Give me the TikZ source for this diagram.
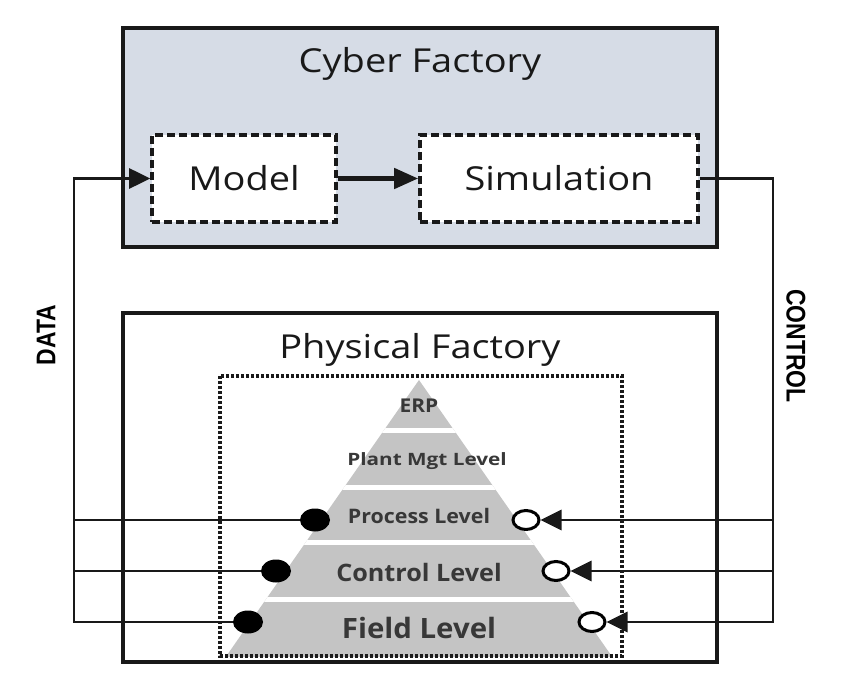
\documentclass[tikz,border=0pt]{standalone}
\usepackage{fontspec}
\usepackage{graphicx}
\setmainfont{Open Sans}
\newfontfamily\labelfont{Liberation Sans}
\usetikzlibrary{arrows.meta,shapes.geometric}
\definecolor{cyberfill}{RGB}{214,220,230}
\definecolor{pyrfill}{RGB}{196,196,196}
\definecolor{inktext}{RGB}{25,25,25}
\newcommand{\stretchtxt}[1]{\scalebox{1.15}[1]{#1}}
\newcommand{\lvltxt}[2][1.05]{\scalebox{#1}[1]{\bfseries #2}}
\newcommand{\narrowtxt}[1]{\scalebox{0.85}[1]{#1}}
\tikzset{
  frame/.style={draw=black!90, line width=4pt},
  dbox/.style={draw=black!90, line width=3.6pt, dash pattern=on 8pt off 4pt, fill=white,
    inner sep=0pt, font=\fontsize{33}{36}\selectfont, text=inktext},
  title/.style={inner sep=0pt, font=\fontsize{33}{36}\selectfont, text=inktext},
  lvl/.style={inner sep=0pt, text=black!78},
  wire/.style={draw=black!90, line width=2.8pt},
  tip/.style={-{Triangle[length=21pt 0,width=20pt 0]}},
  fdot/.style={ellipse, fill=black, minimum width=30pt, minimum height=23pt, inner sep=0pt},
  odot/.style={ellipse, draw=black, fill=white, line width=3pt, minimum width=26pt, minimum height=19pt, inner sep=0pt},
  side/.style={inner sep=0pt, font=\labelfont\bfseries\fontsize{27}{30}\selectfont}
}
\begin{document}
\begin{tikzpicture}[x=1pt,y=-1pt]
\useasboundingbox (0,0) rectangle (855,679);
\fill[white] (0,0) rectangle (855,679);

% cyber factory
\draw[frame, fill=cyberfill] (123,28) rectangle (717,247);
\node[title] (cyber) at (420,64) {\stretchtxt{Cyber Factory}};
\node[dbox, minimum width=184pt, minimum height=87pt] (model) at (244,178.5) {\stretchtxt{Model}};
\node[dbox, minimum width=278pt, minimum height=87pt] (sim) at (559,178.5) {\stretchtxt{Simulation}};
\draw[draw=black!90, line width=4.5pt, -{Triangle[length=24pt 0,width=20pt 0]}] (model.east) -- (sim.west);

% physical factory
\draw[frame] (123,313) rectangle (717,662);
\node[title] (phys) at (420,350) {\stretchtxt{Physical Factory}};

% automation pyramid with white gaps between its levels
\begin{scope}
  \clip (419,380) -- (612.3,657) -- (225.7,657) -- cycle;
  \fill[pyrfill] (200,370) rectangle (640,660);
  \fill[white] (200,428) rectangle (640,433);
  \fill[white] (200,485) rectangle (640,490);
  \fill[white] (200,540) rectangle (640,545);
  \fill[white] (200,597) rectangle (640,602);
\end{scope}
\draw[draw=black!90, line width=3.4pt, dash pattern=on 3pt off 2pt] (220,376) rectangle (622,656);

\node[lvl, font=\fontsize{19}{22}\selectfont] (erp) at (419,406) {\lvltxt[1.1]{ERP}};
\node[lvl, font=\fontsize{17}{20}\selectfont] (plant) at (427,461) {\lvltxt[1.22]{Plant Mgt Level}};
\node[lvl, font=\fontsize{20}{24}\selectfont] (proc) at (419,516) {\lvltxt[1.07]{Process Level}};
\node[lvl, font=\fontsize{24}{28}\selectfont] (ctrl) at (419,572) {\lvltxt[1.05]{Control Level}};
\node[lvl, font=\fontsize{28}{32}\selectfont] (field) at (419,628) {\lvltxt[1.05]{Field Level}};

% sensing points (data out) and actuation points (control in)
\node[fdot] (dp) at (315,520) {};
\node[fdot] (dc) at (276,571) {};
\node[fdot] (df) at (248,622) {};
\node[odot] (cp) at (526,520) {};
\node[odot] (cc) at (556,571) {};
\node[odot] (cf) at (592,622) {};

% data loop
\coordinate (dl) at (74,178.5);
\draw[wire, tip] (df.west) -- (df.west -| dl) -- (dl) -- (model.west);
\draw[wire] (dc.west) -- (dc.west -| dl);
\draw[wire] (dp.west) -- (dp.west -| dl);
\node[side, rotate=90] (datalbl) at (46,335) {\narrowtxt{DATA}};

% control loop
\coordinate (cr) at (773,178.5);
\draw[wire, tip] (sim.east) -- (cr) -- (cr |- cf.east) -- (cf.east);
\draw[wire, tip] (cr |- cc.east) -- (cc.east);
\draw[wire, tip] (cr |- cp.east) -- (cp.east);
\node[side, rotate=-90] (ctrllbl) at (796,346) {\narrowtxt{CONTROL}};
\end{tikzpicture}
\end{document}
